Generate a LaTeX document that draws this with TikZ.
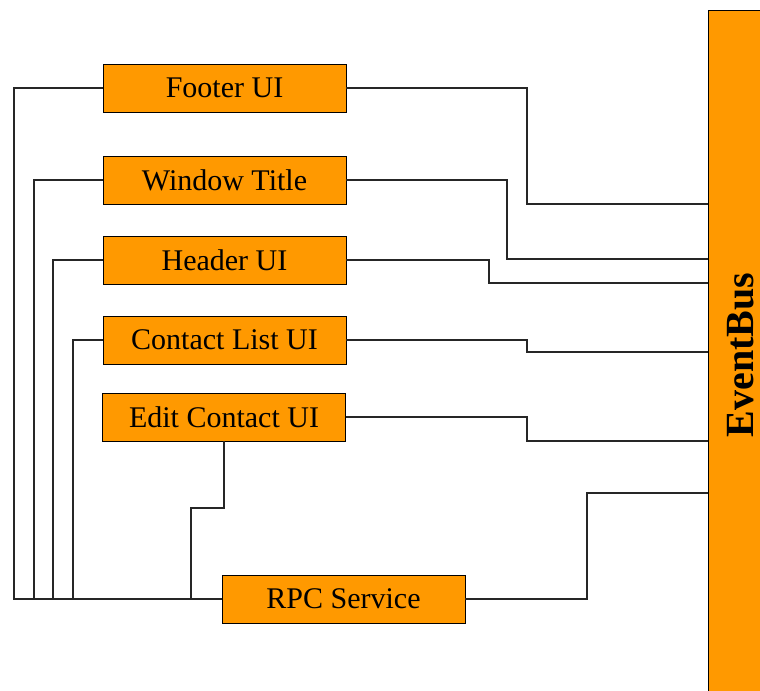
\documentclass[tikz,border=0pt]{standalone}
\usepackage{graphicx}
\usepackage{fontspec}
\setmainfont{Liberation Serif}
\usetikzlibrary{positioning}
\definecolor{busorange}{RGB}{255,153,0}

\tikzset{
  comp/.style={rectangle,draw,fill=busorange,minimum width=182pt,minimum height=36pt,
    inner sep=0pt,font=\fontsize{22.5}{26}\selectfont},
  wire/.style={draw=black!85,line width=0.8pt}
}

\begin{document}
\begin{tikzpicture}[x=0.75pt,y=-0.75pt]
\useasboundingbox (0,0) rectangle (760,690);
\clip (0,0) rectangle (760,690);
\path
(224.5,88)  node[comp] (footer) {Footer UI}
(224.5,180) node[comp] (title)  {Window Title}
(224.5,260) node[comp] (header) {Header UI}
(224.5,340) node[comp] (clist)  {Contact List UI}
(224,417)   node[comp] (edit)   {Edit Contact UI}
(343.5,599) node[comp] (rpc)    {RPC Service}
(751,355)   node[rectangle,draw,fill=busorange,minimum width=64.5pt,minimum height=517.5pt,
  inner sep=0pt,font=\fontsize{30}{34}\bfseries] (bus) {\rotatebox{90}{EventBus}\rule{15pt}{0pt}};
% left side down to the service
\draw[wire] (footer.west) -- (14,88) |- (rpc.west);
\draw[wire] (title.west)  -- (34,180) |- (rpc.west);
\draw[wire] (header.west) -- (53,260) |- (rpc.west);
\draw[wire] (clist.west)  -- (73,340) |- (rpc.west);
\draw[wire] (edit.south) -- (224,508) -- (191,508) |- (rpc.west);
% right side into the bus
\draw[wire] (footer.east) -- (527,88)  |- (bus.west |- 0,204);
\draw[wire] (title.east)  -- (507,180) |- (bus.west |- 0,259);
\draw[wire] (header.east) -- (489,260) |- (bus.west |- 0,283);
\draw[wire] (clist.east)  -- (527,340) |- (bus.west |- 0,352);
\draw[wire] (edit.east)   -- (527,417) |- (bus.west |- 0,441);
\draw[wire] (rpc.east)    -- (587,599) |- (bus.west |- 0,493);
\end{tikzpicture}
\end{document}
